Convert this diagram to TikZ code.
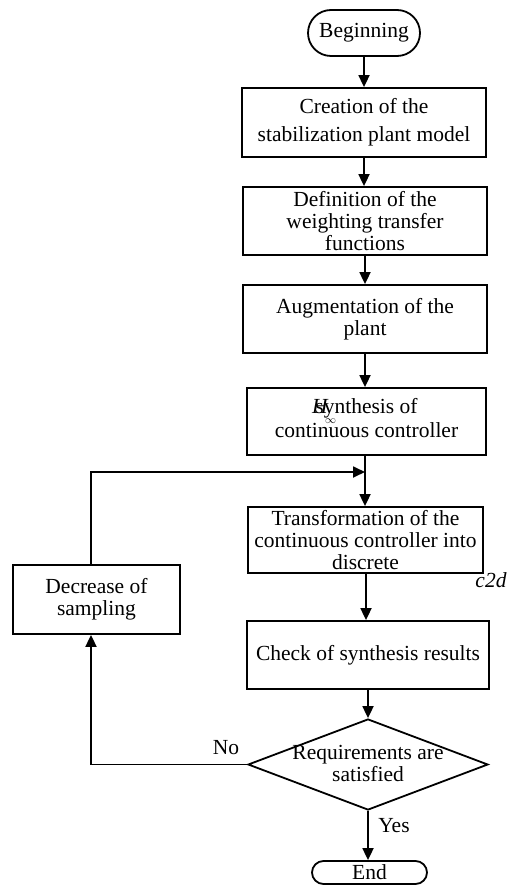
\documentclass[tikz,border=0pt]{standalone}
\usepackage{fontspec}
\setmainfont{Liberation Serif}
\usetikzlibrary{arrows.meta,shapes.geometric}
\begin{document}
\begin{tikzpicture}[x=1pt,y=-1pt,
  every node/.style={font=\fontsize{21.5}{22}\selectfont, inner sep=0pt},
  box/.style={draw, line width=1.8pt, align=center},
  term/.style={draw, line width=1.8pt, align=center},
  arr/.style={line width=1.8pt, -{Triangle[length=12pt,width=11pt]}},
  lbl/.style={font=\fontsize{21.5}{22}\selectfont}
]
\useasboundingbox (0,0) rectangle (508,885);

\node[term, rounded corners=23pt, minimum width=112, minimum height=46] (begin) at (364,33) {Beginning};
\node[box, minimum width=244, minimum height=69] (b1) at (364,122.5) {Creation of the\\[6pt]stabilization plant model};
\node[box, minimum width=244, minimum height=68] (b2) at (365,221) {Definition of the\\weighting transfer\\functions};
\node[box, minimum width=244, minimum height=68] (b3) at (365,319) {Augmentation of the\\plant};
\node[box, minimum width=239, minimum height=67] (b4) at (366.5,421.5) {\raisebox{9pt}{\begin{tabular}{@{}c@{}}\rlap{\kern-0.15em\textit{H}}\rlap{\kern0.45em\raisebox{-0.45em}{\fontsize{11}{11}\selectfont$\infty$}}synthesis of\\[-1pt] continuous controller\end{tabular}}};
\node[box, minimum width=235, minimum height=66] (b5) at (365.5,540) {Transformation of the\\continuous controller into\\discrete};
\node[box, minimum width=242, minimum height=68] (b6) at (368,655) {Check of synthesis results};
\node[draw, line width=1.8pt, shape=diamond, minimum width=240, minimum height=91] (req) at (368,764.5) {};
\node[align=center] (reqtext) at (368,763) {Requirements are\\satisfied};
\node[term, rounded corners=11.5pt, minimum width=115, minimum height=23] (end) at (369.5,872.5) {End};
\node[box, minimum width=167, minimum height=69] (dec) at (96.5,599.5) {Decrease of\\sampling};

\node[lbl] (c2d) at (491,580) {\textit{c2d}};
\node[lbl] (no) at (226,748) {No};
\node[lbl] (yes) at (394,826) {Yes};

\coordinate (lx) at (91,0);
\coordinate (join) at (365,472);

\draw[arr] (begin.south) -- (begin.south |- b1.north);
\draw[arr] (b1.south -| 364,0) -- (b2.north -| 364,0);
\draw[arr] (b2.south -| 365,0) -- (b3.north -| 365,0);
\draw[arr] (b3.south -| 365,0) -- (b4.north -| 365,0);
\draw[arr] (b4.south -| join) -- (b5.north -| join);
\draw[arr] (b5.south -| 366,0) -- (b6.north -| 366,0);
\draw[arr] (b6.south -| req) -- (req.north);
\draw[arr] (req.south) -- (req.south |- end.north);
\draw[arr] (req.west) -| (dec.south -| lx);
\draw[arr] (dec.north -| lx) |- (join);
\end{tikzpicture}
\end{document}
